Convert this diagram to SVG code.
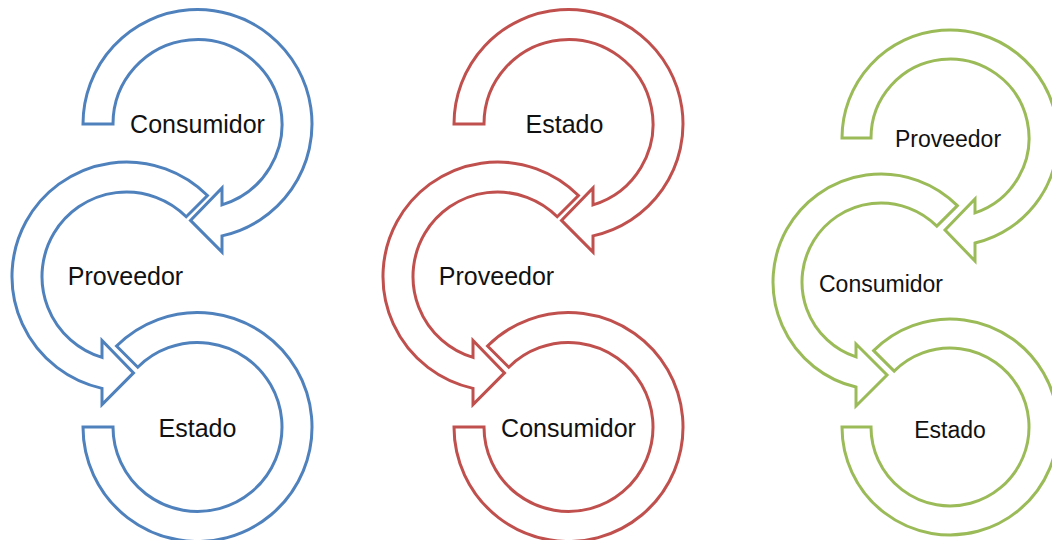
<svg xmlns="http://www.w3.org/2000/svg" width="1052" height="540" viewBox="0 0 1052 540">
<style>
.blue{fill:#fff;stroke:#4F81BD;stroke-width:3;stroke-linejoin:miter}
.red{fill:#fff;stroke:#C0504D;stroke-width:3;stroke-linejoin:miter}
.green{fill:#fff;stroke:#9BBB59;stroke-width:3;stroke-linejoin:miter}
.lbl{font-family:"Liberation Sans",Arial,sans-serif;font-size:25px;fill:#111;text-anchor:middle}
.lblg{font-family:"Liberation Sans",Arial,sans-serif;font-size:23px;fill:#111;text-anchor:middle}
</style>
<defs>
<path id="A" d="M -114.5 0 A 114.5 114.5 0 1 1 24.5 111.85 L 24.5 128 L -7 96.4 L 24.5 64 L 24.5 80.87 A 84.5 84.5 0 1 0 -84.5 0 Z"/>
<path id="B" d="M 80.96 -80.96 A 114.5 114.5 0 1 0 -24.5 111.85 L -24.5 128 L 7 96.4 L -24.5 64 L -24.5 80.87 A 84.5 84.5 0 1 1 59.75 -59.75 Z"/>
<path id="C" d="M -114.5 0 A 114.5 114.5 0 1 0 -80.96 -80.96 L -59.75 -59.75 A 84.5 84.5 0 1 1 -84.5 0 Z"/>
<path id="gA" d="M -108 0 A 108 108 0 1 1 25 105.07 L 25 123 L -5 92 L 25 61 L 25 74.94 A 79 79 0 1 0 -79 0 Z"/>
<path id="gB" d="M 76.37 -76.37 A 108 108 0 1 0 -25 105.07 L -25 124 L 6 93 L -25 62 L -25 74.94 A 79 79 0 1 1 55.86 -55.86 Z"/>
<path id="gC" d="M -108 0 A 108 108 0 1 0 -76.37 -76.37 L -55.86 -55.86 A 79 79 0 1 1 -79 0 Z"/>
</defs>
<rect width="1052" height="540" fill="#fff"/>
<g id="connectors"/>
<!-- blue column -->
<g id="blue-consumidor" transform="translate(197.5,124)">
<use href="#A" class="blue"/>
<text class="lbl" x="0" y="9">Consumidor</text>
</g>
<g id="blue-proveedor" transform="translate(126.5,276.5)">
<use href="#B" class="blue"/>
<text class="lbl" x="-1" y="8.5">Proveedor</text>
</g>
<g id="blue-estado" transform="translate(197.5,427)">
<use href="#C" class="blue"/>
<text class="lbl" x="0" y="10">Estado</text>
</g>
<!-- red column -->
<g id="red-estado" transform="translate(568.5,124)">
<use href="#A" class="red"/>
<text class="lbl" x="-4" y="9">Estado</text>
</g>
<g id="red-proveedor" transform="translate(497.5,276.5)">
<use href="#B" class="red"/>
<text class="lbl" x="-1" y="8.5">Proveedor</text>
</g>
<g id="red-consumidor" transform="translate(568.5,427)">
<use href="#C" class="red"/>
<text class="lbl" x="0" y="10">Consumidor</text>
</g>
<!-- green column -->
<g id="green-proveedor" transform="translate(950,138)">
<use href="#gA" class="green"/>
<text class="lblg" x="-2" y="9">Proveedor</text>
</g>
<g id="green-consumidor" transform="translate(881,282)">
<use href="#gB" class="green"/>
<text class="lblg" x="0" y="10">Consumidor</text>
</g>
<g id="green-estado" transform="translate(950,427)">
<use href="#gC" class="green"/>
<text class="lblg" x="0" y="11">Estado</text>
</g>
</svg>
